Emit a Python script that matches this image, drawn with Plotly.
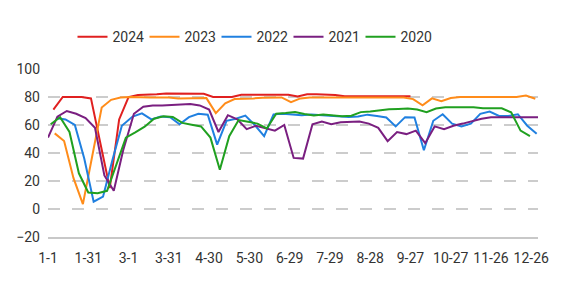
import pandas as pd
import plotly.graph_objects as go

# ---- data (weekly Friday readings, mapped onto a month-day axis) ----
series_names = ["2024", "2023", "2022", "2021", "2020"]
first_dates = ["2024-01-05", "2023-01-06", "2022-01-07", "2021-01-01", "2020-01-03"]

v2024 = [71, 80, 80, 80, 79, 47, 15, 64, 80, 81.4, 81.5, 82, 82.5, 82.5, 82.5, 82.5,
         82.3, 80, 80, 80, 81.6, 81.6, 81.5, 81.5, 82, 81.6, 80.4, 82, 82, 82, 81.5,
         80.5, 80.5, 80.5, 80.5, 80.5, 80.5, 80.5, 80.5]
v2023 = [54, 48.6, 22, 3.5, 38, 72.5, 78, 79.6, 80, 79.7, 79.7, 79.7, 79.7, 79, 79, 79,
         79.2, 68.5, 75.5, 78.5, 78.5, 79, 79.5, 79.7, 79.7, 76.3, 79, 79.7, 79.7, 79.7,
         79.7, 79.7, 79.7, 79.7, 79.7, 79.7, 79.7, 79.7, 78.5, 74, 79, 77, 79.3, 80, 80,
         80, 80, 80, 80, 80, 81, 78.7]
v2022 = [65, 64, 60, 36, 5.2, 8.8, 35, 59.5, 66, 68.3, 64, 66, 65.5, 60.5, 65.6, 68,
         67.3, 46, 63, 64.5, 66.7, 60, 52, 67.6, 68, 67.4, 67, 67.5, 67, 66.5, 66, 65.7,
         66, 67.4, 66.5, 65.4, 59, 65.6, 65.4, 42, 63, 67.7, 61, 59, 61, 68, 69.6, 66.5,
         66.5, 67.7, 59.5, 53.7]
v2021 = [51, 66, 70, 68, 65, 58, 24, 13, 42, 68, 73, 74, 74, 74.5, 75, 75, 74, 71, 55,
         67, 64, 57, 59.5, 58, 56, 60, 36.5, 36, 60.5, 62.5, 60.5, 62, 62, 62.5, 61, 58,
         48.5, 55, 53.5, 56, 47, 59, 57, 59.5, 61, 63, 64.5, 65.5, 65.5, 65.5, 66, 66, 65.5]
v2020 = [60.5, 65.5, 55, 25.5, 11.8, 11.3, 13, 32, 51, 54.8, 58.8, 64.5, 66.2, 65.7,
         61.5, 60.2, 59, 51, 28, 52, 63.5, 62.3, 61, 57.5, 68, 68.5, 69.2, 67.8, 66.8,
         67.5, 66.8, 66.2, 66.6, 69.2, 69.7, 70.5, 71.2, 71.5, 71.8, 71, 69.2, 71.8, 72.6,
         72.6, 72.6, 72.6, 72, 72, 71.9, 69, 56, 52]
series_values = [v2024, v2023, v2022, v2021, v2020]

tick_labels = ["1-1", "1-31", "3-1", "3-31", "4-30", "5-30", "6-29", "7-29",
               "8-28", "9-27", "10-27", "11-26", "12-26"]
y_ticks = [-20, 0, 20, 40, 60, 80, 100]

colors = ["#e02020", "#ff8c1a", "#2080e0", "#7a1f80", "#20a020"]

AXIS_YEAR = 2024


def to_axis_dates(start, n):
    ds = pd.date_range(start, periods=n, freq="7D")
    return [f"{AXIS_YEAR}-{d.month:02d}-{d.day:02d}" for d in ds]


def label_to_date(lbl):
    m, d = lbl.split("-")
    return f"{AXIS_YEAR}-{int(m):02d}-{int(d):02d}"


fig = go.Figure()
for name, start, vals, col in zip(series_names, first_dates, series_values, colors):
    fig.add_trace(go.Scatter(
        x=to_axis_dates(start, len(vals)), y=vals, name=name, mode="lines",
        line=dict(color=col, width=2),
    ))

font_family = "Roboto, 'Noto Sans', sans-serif"
fig.update_layout(
    width=568, height=286,
    margin=dict(l=48, r=30, t=69, b=49),
    paper_bgcolor="white", plot_bgcolor="white",
    font=dict(family=font_family, size=13, color="#333333"),
    showlegend=True,
    legend=dict(orientation="h", x=0.05, xanchor="left", y=1.19, yanchor="middle",
                font=dict(size=14, color="#333333"), entrywidth=27,
                itemwidth=30, bgcolor="rgba(0,0,0,0)"),
    xaxis=dict(
        type="date",
        range=[f"{AXIS_YEAR}-01-01", f"{AXIS_YEAR}-12-31"],
        tickmode="array",
        tickvals=[label_to_date(t) for t in tick_labels],
        ticktext=tick_labels,
        showgrid=False, zeroline=False,
        showline=True, linecolor="#c8c8c8", linewidth=1.5,
        ticks="", ticklabelstandoff=7,
        tickfont=dict(size=14, color="#333333"),
    ),
    yaxis=dict(
        range=[-20, 100], tickmode="array", tickvals=y_ticks,
        showgrid=True, gridcolor="#cccccc", gridwidth=2, griddash="12px,12px",
        zeroline=False, showline=False, ticks="", ticklabelstandoff=7,
        tickfont=dict(size=14, color="#333333"),
    ),
)

fig.write_html("out.html")
